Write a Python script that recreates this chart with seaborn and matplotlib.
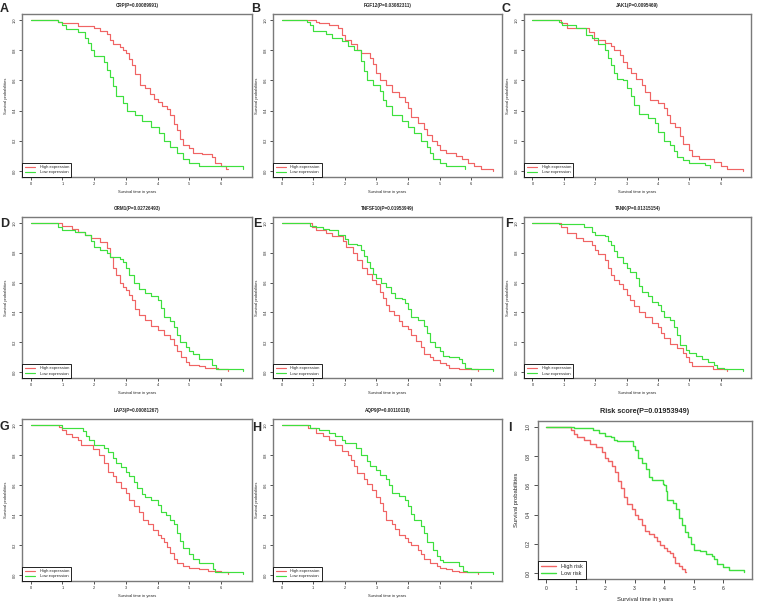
import matplotlib
matplotlib.use("Agg")
import matplotlib.pyplot as plt
import pandas as pd
import seaborn as sns

# Kaplan-Meier step points (time in years, survival probability)
crp_high = [(0, 1.0), (0.85, 0.99), (1.0, 0.98), (1.5, 0.96), (2.0, 0.95), (2.2, 0.93), (2.4, 0.91), (2.5, 0.87),
            (2.6, 0.84), (2.8, 0.82), (2.9, 0.80), (3.0, 0.78), (3.1, 0.74), (3.2, 0.70), (3.3, 0.64), (3.45, 0.57),
            (3.6, 0.55), (3.75, 0.51), (3.9, 0.48), (4.0, 0.46), (4.15, 0.43), (4.3, 0.41), (4.4, 0.37), (4.5, 0.31),
            (4.6, 0.27), (4.7, 0.21), (4.8, 0.17), (5.0, 0.15), (5.1, 0.12), (5.4, 0.11), (5.7, 0.09), (5.8, 0.05),
            (6.0, 0.03), (6.15, 0.01), (6.2, 0.01)]
crp_low = [(0, 1.0), (0.85, 0.99), (1.0, 0.97), (1.1, 0.94), (1.5, 0.92), (1.7, 0.88), (1.8, 0.85), (1.9, 0.80),
           (2.0, 0.76), (2.3, 0.72), (2.4, 0.67), (2.5, 0.62), (2.6, 0.56), (2.7, 0.50), (2.9, 0.45), (3.05, 0.40),
           (3.3, 0.37), (3.5, 0.33), (3.8, 0.29), (4.05, 0.25), (4.2, 0.20), (4.4, 0.16), (4.6, 0.12), (4.8, 0.08),
           (5.0, 0.05), (5.3, 0.03), (6.7, 0.01)]

fgf12_high = [(0, 1.0), (1.1, 0.99), (1.2, 0.98), (1.5, 0.97), (1.8, 0.95), (1.9, 0.90), (2.0, 0.87), (2.2, 0.84),
              (2.4, 0.80), (2.5, 0.78), (2.8, 0.75), (2.9, 0.71), (3.0, 0.65), (3.1, 0.60), (3.3, 0.57), (3.5, 0.52),
              (3.7, 0.49), (3.9, 0.46), (4.0, 0.42), (4.1, 0.36), (4.3, 0.32), (4.5, 0.28), (4.6, 0.24), (4.75, 0.20),
              (4.9, 0.17), (5.0, 0.14), (5.2, 0.12), (5.5, 0.10), (5.7, 0.08), (5.9, 0.05), (6.1, 0.03), (6.3, 0.01),
              (6.7, 0.0)]
fgf12_low = [(0, 1.0), (0.8, 0.99), (0.9, 0.97), (1.0, 0.93), (1.4, 0.91), (1.6, 0.88), (1.9, 0.86), (2.1, 0.83),
             (2.3, 0.80), (2.5, 0.73), (2.6, 0.66), (2.7, 0.60), (2.9, 0.57), (3.1, 0.53), (3.2, 0.47), (3.3, 0.43),
             (3.5, 0.37), (3.8, 0.33), (4.0, 0.29), (4.2, 0.25), (4.4, 0.20), (4.6, 0.16), (4.7, 0.12), (4.8, 0.08),
             (5.0, 0.05), (5.2, 0.03), (5.8, 0.01)]

jak1_high = [(0, 1.0), (0.9, 0.98), (1.1, 0.95), (1.8, 0.92), (1.95, 0.87), (2.3, 0.85), (2.5, 0.83), (2.6, 0.80),
             (2.8, 0.77), (2.9, 0.72), (3.0, 0.68), (3.15, 0.65), (3.3, 0.61), (3.5, 0.57), (3.6, 0.52), (3.75, 0.47),
             (4.0, 0.45), (4.2, 0.42), (4.3, 0.37), (4.4, 0.32), (4.55, 0.29), (4.7, 0.23), (4.8, 0.18), (5.0, 0.14),
             (5.1, 0.10), (5.3, 0.08), (5.8, 0.06), (6.0, 0.03), (6.2, 0.01), (6.7, 0.0)]
jak1_low = [(0, 1.0), (0.85, 0.99), (0.95, 0.97), (1.4, 0.95), (1.7, 0.90), (1.9, 0.88), (2.1, 0.84), (2.3, 0.80),
            (2.4, 0.75), (2.5, 0.70), (2.6, 0.65), (2.7, 0.61), (2.9, 0.60), (3.0, 0.55), (3.15, 0.50), (3.25, 0.44),
            (3.4, 0.38), (3.7, 0.35), (3.9, 0.32), (4.0, 0.26), (4.2, 0.20), (4.4, 0.17), (4.5, 0.13), (4.6, 0.09),
            (4.8, 0.07), (5.0, 0.05), (5.5, 0.04), (5.65, 0.02)]

orm1_high = [(0, 1.0), (1.0, 0.98), (1.3, 0.96), (1.5, 0.94), (1.7, 0.92), (1.9, 0.90), (2.2, 0.87), (2.4, 0.83),
             (2.5, 0.77), (2.6, 0.70), (2.7, 0.65), (2.8, 0.60), (2.9, 0.57), (3.0, 0.55), (3.1, 0.52), (3.2, 0.48),
             (3.3, 0.42), (3.4, 0.38), (3.6, 0.35), (3.8, 0.31), (4.0, 0.28), (4.2, 0.25), (4.4, 0.22), (4.5, 0.18),
             (4.6, 0.14), (4.75, 0.10), (4.9, 0.07), (5.0, 0.05), (5.3, 0.04), (5.5, 0.03), (5.9, 0.02), (6.2, 0.01)]
orm1_low = [(0, 1.0), (0.85, 0.97), (1.0, 0.95), (1.4, 0.94), (1.7, 0.92), (1.9, 0.88), (2.0, 0.84), (2.2, 0.82),
            (2.4, 0.80), (2.5, 0.77), (2.8, 0.76), (2.9, 0.74), (3.0, 0.70), (3.1, 0.65), (3.25, 0.60), (3.4, 0.56),
            (3.6, 0.53), (3.8, 0.51), (4.0, 0.48), (4.1, 0.43), (4.2, 0.37), (4.4, 0.34), (4.5, 0.30), (4.6, 0.25),
            (4.7, 0.20), (4.9, 0.17), (5.0, 0.14), (5.1, 0.12), (5.3, 0.09), (5.7, 0.05), (5.85, 0.02), (6.7, 0.01)]

tnfsf10_high = [(0, 1.0), (0.95, 0.97), (1.1, 0.95), (1.4, 0.93), (1.6, 0.91), (1.95, 0.88), (2.05, 0.84),
                (2.25, 0.80), (2.4, 0.75), (2.55, 0.70), (2.7, 0.66), (2.85, 0.62), (3.0, 0.59), (3.1, 0.54),
                (3.2, 0.50), (3.3, 0.45), (3.4, 0.41), (3.55, 0.38), (3.7, 0.34), (3.8, 0.31), (4.0, 0.29),
                (4.1, 0.25), (4.25, 0.21), (4.4, 0.17), (4.5, 0.12), (4.7, 0.10), (4.8, 0.08), (5.0, 0.06),
                (5.2, 0.05), (5.3, 0.03), (5.6, 0.02), (6.2, 0.01)]
tnfsf10_low = [(0, 1.0), (0.9, 0.98), (1.1, 0.97), (1.3, 0.96), (1.5, 0.95), (1.8, 0.92), (2.0, 0.89), (2.1, 0.86),
               (2.4, 0.85), (2.5, 0.82), (2.6, 0.78), (2.7, 0.74), (2.8, 0.70), (2.9, 0.66), (3.0, 0.63),
               (3.15, 0.60), (3.3, 0.57), (3.45, 0.53), (3.6, 0.50), (3.8, 0.49), (3.9, 0.46), (4.0, 0.42),
               (4.1, 0.37), (4.3, 0.35), (4.5, 0.31), (4.6, 0.26), (4.7, 0.20), (4.85, 0.17), (5.0, 0.14),
               (5.1, 0.11), (5.3, 0.10), (5.6, 0.09), (5.7, 0.06), (5.8, 0.03), (6.0, 0.02), (6.7, 0.01)]

tank_high = [(0, 1.0), (0.9, 0.97), (1.1, 0.93), (1.4, 0.90), (1.6, 0.88), (1.9, 0.85), (2.0, 0.82), (2.1, 0.79),
             (2.3, 0.75), (2.4, 0.70), (2.5, 0.65), (2.6, 0.62), (2.75, 0.59), (2.9, 0.56), (3.0, 0.52), (3.1, 0.48),
             (3.25, 0.44), (3.4, 0.40), (3.6, 0.37), (3.8, 0.33), (4.0, 0.30), (4.1, 0.26), (4.2, 0.23), (4.4, 0.19),
             (4.6, 0.16), (4.8, 0.13), (4.9, 0.10), (5.0, 0.07), (5.1, 0.04), (5.75, 0.02), (6.2, 0.01)]
tank_low = [(0, 1.0), (0.85, 0.99), (1.65, 0.97), (1.9, 0.94), (2.0, 0.92), (2.3, 0.91), (2.4, 0.88), (2.5, 0.85),
            (2.6, 0.81), (2.7, 0.77), (2.9, 0.73), (3.0, 0.70), (3.1, 0.67), (3.3, 0.63), (3.4, 0.58), (3.5, 0.54),
            (3.7, 0.51), (3.8, 0.47), (4.0, 0.45), (4.1, 0.41), (4.2, 0.37), (4.4, 0.35), (4.5, 0.30), (4.6, 0.25),
            (4.7, 0.18), (4.9, 0.15), (5.0, 0.13), (5.2, 0.11), (5.4, 0.09), (5.6, 0.07), (5.8, 0.05), (5.9, 0.03),
            (6.1, 0.02), (6.7, 0.01)]

lap3_high = [(0, 1.0), (0.9, 0.99), (1.0, 0.97), (1.1, 0.94), (1.3, 0.92), (1.5, 0.90), (1.6, 0.87), (1.95, 0.84),
             (2.15, 0.80), (2.3, 0.75), (2.45, 0.69), (2.6, 0.66), (2.7, 0.62), (2.85, 0.58), (3.0, 0.55), (3.1, 0.50),
             (3.25, 0.46), (3.4, 0.42), (3.55, 0.37), (3.7, 0.34), (3.85, 0.30), (4.0, 0.27), (4.1, 0.25), (4.2, 0.22),
             (4.3, 0.19), (4.4, 0.15), (4.5, 0.11), (4.6, 0.08), (4.8, 0.06), (5.0, 0.05), (5.3, 0.04), (5.6, 0.03),
             (6.0, 0.02), (6.2, 0.01)]
lap3_low = [(0, 1.0), (1.0, 0.98), (1.65, 0.96), (1.75, 0.93), (1.85, 0.90), (2.0, 0.87), (2.3, 0.85), (2.45, 0.82),
            (2.6, 0.78), (2.7, 0.75), (2.85, 0.72), (3.0, 0.69), (3.1, 0.66), (3.25, 0.62), (3.35, 0.58), (3.5, 0.54),
            (3.6, 0.52), (3.8, 0.50), (4.0, 0.47), (4.1, 0.42), (4.25, 0.40), (4.4, 0.37), (4.5, 0.34), (4.6, 0.28),
            (4.7, 0.23), (4.8, 0.18), (5.0, 0.14), (5.1, 0.11), (5.3, 0.08), (5.75, 0.04), (5.8, 0.02), (6.7, 0.01)]

aqp9_high = [(0, 1.0), (0.85, 0.98), (1.1, 0.95), (1.3, 0.93), (1.5, 0.90), (1.7, 0.87), (1.9, 0.83), (2.1, 0.80),
             (2.2, 0.77), (2.3, 0.73), (2.4, 0.68), (2.6, 0.64), (2.7, 0.61), (2.85, 0.57), (3.0, 0.52), (3.1, 0.48),
             (3.2, 0.43), (3.3, 0.37), (3.5, 0.34), (3.6, 0.31), (3.7, 0.27), (3.9, 0.25), (4.0, 0.22), (4.1, 0.20),
             (4.3, 0.17), (4.4, 0.14), (4.5, 0.11), (4.7, 0.08), (4.9, 0.06), (5.0, 0.05), (5.2, 0.04), (5.4, 0.03),
             (5.6, 0.02), (6.2, 0.01)]
aqp9_low = [(0, 1.0), (0.9, 0.98), (1.2, 0.97), (1.5, 0.95), (1.7, 0.93), (1.9, 0.90), (2.0, 0.88), (2.35, 0.85),
            (2.5, 0.80), (2.7, 0.76), (2.8, 0.73), (3.0, 0.70), (3.1, 0.67), (3.3, 0.64), (3.4, 0.60), (3.5, 0.55),
            (3.7, 0.53), (3.9, 0.50), (4.0, 0.46), (4.1, 0.41), (4.2, 0.37), (4.4, 0.33), (4.5, 0.28), (4.6, 0.22),
            (4.8, 0.17), (4.9, 0.13), (5.0, 0.10), (5.1, 0.09), (5.6, 0.06), (5.75, 0.03), (5.85, 0.02), (6.7, 0.01)]

risk_high = [(0, 1.0), (0.85, 0.98), (0.95, 0.95), (1.05, 0.93), (1.3, 0.91), (1.5, 0.88), (1.7, 0.86), (1.9, 0.83),
             (2.0, 0.79), (2.1, 0.77), (2.25, 0.73), (2.35, 0.69), (2.45, 0.63), (2.55, 0.58), (2.65, 0.52),
             (2.75, 0.47), (2.9, 0.44), (3.0, 0.40), (3.1, 0.37), (3.25, 0.33), (3.35, 0.29), (3.5, 0.27),
             (3.65, 0.25), (3.75, 0.22), (3.85, 0.19), (4.0, 0.17), (4.1, 0.15), (4.2, 0.14), (4.3, 0.11),
             (4.35, 0.07), (4.5, 0.05), (4.6, 0.03), (4.7, 0.01), (4.75, 0.01)]
risk_low = [(0, 1.0), (0.95, 0.99), (1.6, 0.98), (1.8, 0.96), (2.0, 0.94), (2.2, 0.93), (2.3, 0.91), (2.4, 0.90),
            (2.95, 0.87), (3.0, 0.84), (3.1, 0.79), (3.25, 0.75), (3.4, 0.71), (3.5, 0.66), (3.6, 0.64), (3.95, 0.61),
            (4.0, 0.60), (4.05, 0.56), (4.1, 0.50), (4.3, 0.48), (4.4, 0.44), (4.5, 0.38), (4.6, 0.33), (4.7, 0.28),
            (4.8, 0.25), (4.9, 0.20), (5.0, 0.16), (5.2, 0.15), (5.4, 0.13), (5.6, 0.12), (5.7, 0.10), (5.8, 0.06),
            (6.0, 0.04), (6.2, 0.02), (6.7, 0.01)]

panel_letters = ["A", "B", "C", "D", "E", "F", "G", "H", "I"]
panel_titles = ["CRP(P=0.00089991)", "FGF12(P=0.03082311)", "JAK1(P=0.0095469)",
                "ORM1(P=0.02726493)", "TNFSF10(P=0.01953949)", "TANK(P=0.01315154)",
                "LAP3(P=0.00081267)", "AQP9(P=0.00110118)", "Risk score(P=0.01953949)"]
panel_curves = [(crp_high, crp_low), (fgf12_high, fgf12_low), (jak1_high, jak1_low),
                (orm1_high, orm1_low), (tnfsf10_high, tnfsf10_low), (tank_high, tank_low),
                (lap3_high, lap3_low), (aqp9_high, aqp9_low), (risk_high, risk_low)]
gene_labels = ["High expression", "Low expression"]
risk_labels = ["High risk", "Low risk"]

RED = "#f06464"
GREEN = "#3ee03e"
FRAME = "#7a7a7a"

sns.set_style("white")
plt.rcParams["font.family"] = ["Liberation Sans", "DejaVu Sans"]

W, H = 758, 605
fig = plt.figure(figsize=(W / 100, H / 100), dpi=100)

# axes boxes in pixels (left, right, top, bottom)
cols = [(22, 252), (273, 502), (524, 751)]
rows = [(14, 177), (217, 378), (419, 581)]


def px_rect(l, r, t, b):
    return [l / W, 1 - b / H, (r - l) / W, (b - t) / H]


def draw_km(ax, high, low, labels, title, big):
    for curve, color, lab in [(high, RED, labels[0]), (low, GREEN, labels[1])]:
        d = pd.DataFrame(curve, columns=["time", "surv"])
        sns.lineplot(data=d, x="time", y="surv", drawstyle="steps-post", color=color,
                     lw=1.0 if big else 0.85, estimator=None, sort=False, ax=ax, label=lab)
    ax.set_xlim(-0.27, 6.97)
    ax.set_ylim(-0.04, 1.04)
    ax.set_xticks(range(0, 7))
    ax.set_yticks([0.0, 0.2, 0.4, 0.6, 0.8, 1.0])
    ax.set_yticklabels(["0.0", "0.2", "0.4", "0.6", "0.8", "1.0"])
    tick_fs = 3.6 if big else 2.8
    lab_fs = 4.2 if big else 2.9
    ax.tick_params(axis="both", direction="out", length=3 if big else 2, width=0.6, color="#333333",
                   labelsize=tick_fs, pad=2 if big else 1.5, bottom=True, left=True)
    ax.tick_params(axis="y", labelrotation=90)
    for lbl in ax.get_yticklabels():
        lbl.set_va("center")
    for sp in ax.spines.values():
        sp.set_color(FRAME)
        sp.set_linewidth(1.0)
    ax.set_xlabel("Survival time in years", fontsize=lab_fs, labelpad=4 if big else 3)
    ax.set_ylabel("Survival probabilities", fontsize=lab_fs, labelpad=5 if big else 4)
    ax.set_title(title, fontsize=5.2 if big else 3.3, fontweight="bold", pad=6 if big else 5)
    ax.legend(loc="lower left", borderaxespad=0, fancybox=False, edgecolor="black", framealpha=1,
              fontsize=4.0 if big else 3.0, handlelength=2.6, borderpad=0.6, labelspacing=0.3,
              handletextpad=1.0).get_frame().set_linewidth(0.6)


for i in range(9):
    r, c = divmod(i, 3)
    big = i == 8
    if big:
        rect = px_rect(538, 752, 421, 579)
    else:
        rect = px_rect(cols[c][0], cols[c][1], rows[r][0], rows[r][1])
    ax = fig.add_axes(rect)
    high, low = panel_curves[i]
    draw_km(ax, high, low, risk_labels if big else gene_labels, panel_titles[i], big)

# panel letters
letter_pos = [(0, 3), (251, 3), (502, 3), (0, 218), (253, 218), (505, 218), (0, 421), (252, 422), (508, 422)]
for letter, (x, y) in zip(panel_letters, letter_pos):
    fig.text(x / W, 1 - y / H, letter, fontsize=9, fontweight="bold", ha="left", va="top")

fig.savefig("out.png", dpi=100)
